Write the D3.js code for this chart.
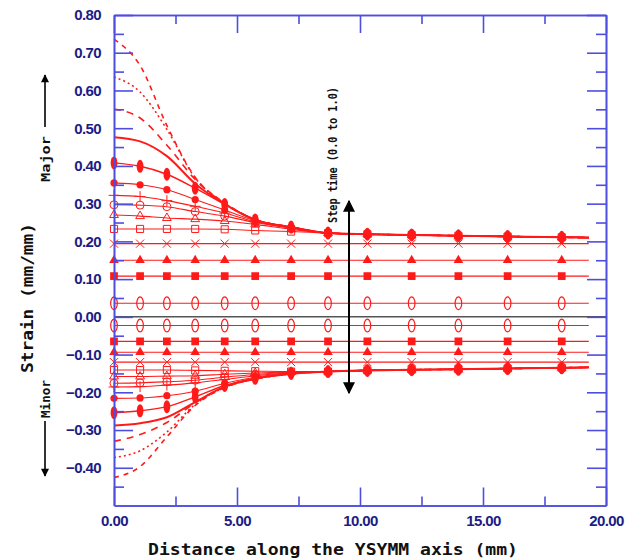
<!DOCTYPE html>
<html>
<head>
<meta charset="utf-8">
<script src="https://cdn.jsdelivr.net/npm/d3@7"></script>
<style>
  body { margin: 0; background: #fff; }
  .mono { font-family: "DejaVu Sans Mono", "Liberation Mono", monospace; font-weight: bold; fill: #111; }
</style>
</head>
<body>
<svg id="chart" width="639" height="560"></svg>
<script>
// node positions along the YSYMM axis (mm)
var nodeX = [0, 1.06, 2.15, 3.3, 4.5, 5.74, 7.2, 8.7, 10.3, 12.1, 14.0, 16.0, 18.2, 19.3];

// converged part of the curves, x >= 8.7
var majorTail = [0.222, 0.219, 0.217, 0.215, 0.213, 0.211, 0.210];
var minorTail = [-0.145, -0.142, -0.140, -0.139, -0.137, -0.135, -0.134];

// major strain, one array per step
var majorShortDash = [0.736, 0.666, 0.507, 0.370, 0.302, 0.258, 0.238].concat(majorTail);
var majorDotted    = [0.636, 0.596, 0.497, 0.368, 0.301, 0.258, 0.238].concat(majorTail);
var majorLongDash  = [0.551, 0.527, 0.455, 0.364, 0.300, 0.258, 0.238].concat(majorTail);
var majorSolid     = [0.476, 0.465, 0.426, 0.353, 0.299, 0.257, 0.238].concat(majorTail);
var majorDiamond   = [0.408, 0.399, 0.378, 0.341, 0.298, 0.257, 0.238].concat(majorTail);
var majorCircle    = [0.355, 0.350, 0.337, 0.311, 0.283, 0.255, 0.237].concat(majorTail);
var majorPlus      = [0.322, 0.319, 0.308, 0.293, 0.275, 0.252, 0.236].concat(majorTail);
var majorRing      = [0.297, 0.296, 0.292, 0.279, 0.267, 0.250, 0.235].concat(majorTail);
var majorTriOpen   = [0.270, 0.267, 0.262, 0.259, 0.254, 0.245, 0.232].concat(majorTail);
var majorSqOpen    = [0.233, 0.233, 0.233, 0.233, 0.232, 0.229, 0.226].concat(majorTail);
var majorCross     = [0.194, 0.194, 0.194, 0.194, 0.194, 0.194, 0.194, 0.194, 0.194, 0.194, 0.194, 0.194, 0.194, 0.194];
var majorTri       = [0.150, 0.150, 0.150, 0.150, 0.150, 0.150, 0.150, 0.150, 0.150, 0.150, 0.150, 0.150, 0.150, 0.150];
var majorSq        = [0.108, 0.108, 0.108, 0.108, 0.108, 0.108, 0.108, 0.108, 0.108, 0.108, 0.108, 0.108, 0.108, 0.108];
var majorOval      = [0.036, 0.036, 0.036, 0.036, 0.036, 0.036, 0.036, 0.036, 0.036, 0.036, 0.036, 0.036, 0.036, 0.036];

// minor strain
var minorOval      = [-0.023, -0.023, -0.023, -0.023, -0.023, -0.023, -0.023, -0.023, -0.023, -0.023, -0.023, -0.023, -0.023, -0.023];
var minorSq        = [-0.065, -0.065, -0.065, -0.065, -0.065, -0.065, -0.065, -0.065, -0.065, -0.065, -0.065, -0.065, -0.065, -0.065];
var minorTri       = [-0.094, -0.094, -0.094, -0.094, -0.094, -0.094, -0.094, -0.094, -0.094, -0.094, -0.094, -0.094, -0.094, -0.094];
var minorCross     = [-0.120, -0.120, -0.120, -0.120, -0.120, -0.120, -0.120, -0.120, -0.120, -0.120, -0.120, -0.120, -0.120, -0.120];
var minorSqOpen    = [-0.141, -0.141, -0.141, -0.142, -0.143, -0.144, -0.145].concat(minorTail);
var minorTriOpen   = [-0.158, -0.158, -0.157, -0.156, -0.152, -0.149, -0.146].concat(minorTail);
var minorRing      = [-0.176, -0.175, -0.172, -0.168, -0.160, -0.153, -0.147].concat(minorTail);
var minorPlus      = [-0.186, -0.185, -0.181, -0.175, -0.166, -0.156, -0.148].concat(minorTail);
var minorCircle    = [-0.216, -0.215, -0.209, -0.197, -0.176, -0.160, -0.149].concat(minorTail);
var minorDiamond   = [-0.254, -0.249, -0.238, -0.212, -0.182, -0.163, -0.150].concat(minorTail);
var minorSolid     = [-0.288, -0.282, -0.266, -0.226, -0.185, -0.164, -0.151].concat(minorTail);
var minorLongDash  = [-0.330, -0.312, -0.280, -0.228, -0.186, -0.165, -0.151].concat(minorTail);
var minorDotted    = [-0.373, -0.355, -0.305, -0.232, -0.187, -0.165, -0.151].concat(minorTail);
var minorShortDash = [-0.426, -0.397, -0.318, -0.235, -0.187, -0.165, -0.151].concat(minorTail);

// ticks
var xMajorTicks = [0, 5, 10, 15, 20];
var xMinorTicks = [2.5, 7.5, 12.5, 17.5];
var yMajorTicks = [-0.4, -0.3, -0.2, -0.1, 0, 0.1, 0.2, 0.3, 0.4, 0.5, 0.6, 0.7, 0.8];
var yMinorTicks = [-0.45, -0.35, -0.25, -0.15, -0.05, 0.05, 0.15, 0.25, 0.35, 0.45, 0.55, 0.65, 0.75];

var RED = "#ff1a1a";
var AXIS = "#4d4de0";
var LABEL = "#1c1c86";

var svg = d3.select("#chart");
var x = d3.scaleLinear().domain([0, 20]).range([114, 606]);
var y = d3.scaleLinear().domain([-0.5, 0.8]).range([505.5, 15]);

// line styles + marker kinds, built from the arrays above
var series = [
  { v: majorShortDash, dash: "5,5", w: 1.6 },
  { v: majorDotted, dash: "2,3", w: 1.6 },
  { v: majorLongDash, dash: "7,6", w: 1.6 },
  { v: majorSolid, w: 2 },
  { v: majorDiamond, m: "spindle", w: 1.4 },
  { v: majorCircle, m: "dot" },
  { v: majorPlus, m: "plus" },
  { v: majorRing, m: "ring" },
  { v: majorTriOpen, m: "triOpen" },
  { v: majorSqOpen, m: "sqOpen" },
  { v: majorCross, m: "cross" },
  { v: majorTri, m: "tri" },
  { v: majorSq, m: "sq" },
  { v: majorOval, m: "oval" },
  { v: minorOval, m: "oval" },
  { v: minorSq, m: "sq" },
  { v: minorTri, m: "tri" },
  { v: minorCross, m: "cross" },
  { v: minorSqOpen, m: "sqOpen" },
  { v: minorTriOpen, m: "triOpen" },
  { v: minorRing, m: "ring" },
  { v: minorPlus, m: "plus" },
  { v: minorCircle, m: "dot" },
  { v: minorDiamond, m: "spindle", w: 1.4 },
  { v: minorSolid, w: 2 },
  { v: minorLongDash, dash: "7,6", w: 1.6 },
  { v: minorDotted, dash: "2,3", w: 1.6 },
  { v: minorShortDash, dash: "5,5", w: 1.6 }
];

// zero line
svg.append("line")
  .attr("x1", x(0)).attr("x2", x(20))
  .attr("y1", y(0)).attr("y2", y(0))
  .attr("stroke", "#555").attr("stroke-width", 1.5);

var line = d3.line()
  .x(function (d, i) { return x(nodeX[i]); })
  .y(function (d) { return y(d); })
  .curve(d3.curveMonotoneX);

svg.append("g").selectAll("path")
  .data(series)
  .enter().append("path")
  .attr("d", function (s) { return line(s.v); })
  .attr("fill", "none")
  .attr("stroke", RED)
  .attr("stroke-width", function (s) { return s.w || 1.1; })
  .attr("stroke-dasharray", function (s) { return s.dash || null; });

// markers
function drawMarker(g, kind) {
  if (kind == "dot") {
    g.append("circle").attr("r", 3.6).attr("fill", RED);
  } else if (kind == "spindle") {
    g.append("ellipse").attr("rx", 3.4).attr("ry", 6.5).attr("fill", RED);
  } else if (kind == "ring") {
    g.append("circle").attr("r", 4).attr("fill", "none").attr("stroke", RED);
  } else if (kind == "oval") {
    g.append("ellipse").attr("rx", 3.3).attr("ry", 6.3).attr("fill", "none").attr("stroke", RED).attr("stroke-width", 1.2);
  } else if (kind == "plus") {
    g.append("path").attr("d", d3.symbol(d3.symbolPlus, 40)()).attr("fill", "none").attr("stroke", RED);
  } else if (kind == "cross") {
    g.append("path").attr("d", d3.symbol(d3.symbolX, 45)()).attr("fill", "none").attr("stroke", RED);
  } else if (kind == "tri") {
    g.append("path").attr("d", d3.symbol(d3.symbolTriangle, 40)()).attr("fill", RED);
  } else if (kind == "triOpen") {
    g.append("path").attr("d", d3.symbol(d3.symbolTriangle2, 55)()).attr("fill", "none").attr("stroke", RED);
  } else if (kind == "sq") {
    g.append("path").attr("d", d3.symbol(d3.symbolSquare, 60)()).attr("fill", RED);
  } else if (kind == "sqOpen") {
    g.append("path").attr("d", d3.symbol(d3.symbolSquare2, 64)()).attr("fill", "none").attr("stroke", RED);
  }
}

var markerLayer = svg.append("g");
series.forEach(function (s) {
  if (!s.m) return;
  s.v.forEach(function (d, i) {
    if (i == nodeX.length - 1) return; // last node has no marker
    var g = markerLayer.append("g").attr("transform", "translate(" + x(nodeX[i]) + "," + y(d) + ")");
    drawMarker(g, s.m);
  });
});

// axes, ticks point inward
function styleAxis(g) {
  g.select(".domain").attr("stroke", AXIS).attr("stroke-width", 1.6);
  g.selectAll(".tick line").attr("stroke", AXIS).attr("stroke-width", 1.6);
  g.selectAll("text")
    .attr("fill", LABEL)
    .style("font-family", "'Liberation Sans', Arial, sans-serif")
    .style("font-weight", "bold")
    .style("font-size", "15px")
    .style("letter-spacing", "-0.6px");
}
var fmt = d3.format(".2f");

svg.append("g").attr("transform", "translate(0," + y(-0.5) + ")")
  .call(d3.axisBottom(x).tickValues(xMinorTicks).tickSize(-9).tickSizeOuter(0).tickFormat(""))
  .call(styleAxis);
svg.append("g").attr("transform", "translate(0," + y(-0.5) + ")")
  .call(d3.axisBottom(x).tickValues(xMajorTicks).tickSize(-18).tickSizeOuter(0).tickPadding(10).tickFormat(fmt))
  .call(styleAxis);
svg.append("g").attr("transform", "translate(0," + y(0.8) + ")")
  .call(d3.axisTop(x).tickValues(xMinorTicks).tickSize(-9).tickSizeOuter(0).tickFormat(""))
  .call(styleAxis);
svg.append("g").attr("transform", "translate(0," + y(0.8) + ")")
  .call(d3.axisTop(x).tickValues(xMajorTicks).tickSize(-18).tickSizeOuter(0).tickFormat(""))
  .call(styleAxis);

svg.append("g").attr("transform", "translate(" + x(0) + ",0)")
  .call(d3.axisLeft(y).tickValues(yMinorTicks).tickSize(-10).tickSizeOuter(0).tickFormat(""))
  .call(styleAxis);
svg.append("g").attr("transform", "translate(" + x(0) + ",0)")
  .call(d3.axisLeft(y).tickValues(yMajorTicks).tickSize(-19).tickSizeOuter(0).tickPadding(13).tickFormat(fmt))
  .call(styleAxis);
svg.append("g").attr("transform", "translate(" + x(20) + ",0)")
  .call(d3.axisRight(y).tickValues(yMinorTicks).tickSize(-10).tickSizeOuter(0).tickFormat(""))
  .call(styleAxis);
svg.append("g").attr("transform", "translate(" + x(20) + ",0)")
  .call(d3.axisRight(y).tickValues(yMajorTicks).tickSize(-19).tickSizeOuter(0).tickFormat(""))
  .call(styleAxis);

// arrow heads
var defs = svg.append("defs");
defs.append("marker").attr("id", "headBig")
  .attr("viewBox", "0 0 10 10").attr("refX", 9).attr("refY", 5)
  .attr("markerWidth", 6).attr("markerHeight", 6).attr("markerUnits", "strokeWidth")
  .attr("orient", "auto-start-reverse")
  .append("path").attr("d", "M0,0 L10,5 L0,10 Z").attr("fill", "#000");
defs.append("marker").attr("id", "headSmall")
  .attr("viewBox", "0 0 10 10").attr("refX", 9).attr("refY", 5)
  .attr("markerWidth", 6).attr("markerHeight", 5).attr("markerUnits", "strokeWidth")
  .attr("orient", "auto-start-reverse")
  .append("path").attr("d", "M0,0 L10,5 L0,10 Z").attr("fill", "#000");

// step time arrow
svg.append("line")
  .attr("x1", 349).attr("x2", 349).attr("y1", 201).attr("y2", 393)
  .attr("stroke", "#000").attr("stroke-width", 2)
  .attr("marker-start", "url(#headBig)").attr("marker-end", "url(#headBig)");
svg.append("text").attr("class", "mono")
  .attr("transform", "translate(337,155) rotate(-90)")
  .attr("text-anchor", "middle")
  .attr("textLength", 136).attr("lengthAdjust", "spacingAndGlyphs")
  .style("font-size", "13px")
  .text("Step time (0.0 to 1.0)");

// major / minor arrows
svg.append("line")
  .attr("x1", 45).attr("x2", 45).attr("y1", 127).attr("y2", 75)
  .attr("stroke", "#000").attr("stroke-width", 1.6)
  .attr("marker-end", "url(#headSmall)");
svg.append("text").attr("class", "mono")
  .attr("transform", "translate(50,159) rotate(-90)")
  .attr("text-anchor", "middle")
  .attr("textLength", 46).attr("lengthAdjust", "spacingAndGlyphs")
  .style("font-size", "13px")
  .text("Major");
svg.append("line")
  .attr("x1", 45).attr("x2", 45).attr("y1", 421).attr("y2", 476)
  .attr("stroke", "#000").attr("stroke-width", 1.6)
  .attr("marker-end", "url(#headSmall)");
svg.append("text").attr("class", "mono")
  .attr("transform", "translate(50,399) rotate(-90)")
  .attr("text-anchor", "middle")
  .attr("textLength", 38).attr("lengthAdjust", "spacingAndGlyphs")
  .style("font-size", "13px")
  .text("Minor");

// axis titles
svg.append("text").attr("class", "mono")
  .attr("x", 333).attr("y", 555)
  .attr("text-anchor", "middle")
  .attr("textLength", 370).attr("lengthAdjust", "spacingAndGlyphs")
  .style("font-size", "16px")
  .text("Distance along the YSYMM axis (mm)");
svg.append("text").attr("class", "mono")
  .attr("transform", "translate(33,298) rotate(-90)")
  .attr("text-anchor", "middle")
  .attr("textLength", 150).attr("lengthAdjust", "spacingAndGlyphs")
  .style("font-size", "16px")
  .text("Strain (mm/mm)");
</script>
</body>
</html>
